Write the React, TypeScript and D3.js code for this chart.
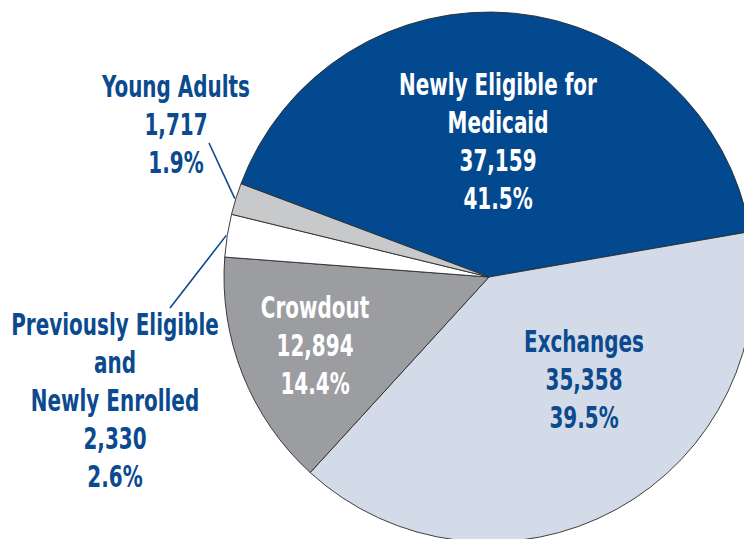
import * as d3 from "d3";

const categories = ["Newly Eligible for Medicaid", "Exchanges", "Crowdout", "Previously Eligible and Newly Enrolled", "Young Adults"];
const values = [37159, 35358, 12894, 2330, 1717];
const percents = ["41.5%", "39.5%", "14.4%", "2.6%", "1.9%"];
const valueLabels = ["37,159", "35,358", "12,894", "2,330", "1,717"];
const labelLines = [
  ["Newly Eligible for", "Medicaid"],
  ["Exchanges"],
  ["Crowdout"],
  ["Previously Eligible", "and", "Newly Enrolled"],
  ["Young Adults"],
];
const fills = ["#03498f", "#d4dbe8", "#9c9da1", "#ffffff", "#c8c9cb"];
const textColors = ["#ffffff", "#0b4a8e", "#ffffff", "#0b4a8e", "#0b4a8e"];

// label anchor (center x, first baseline y) and leader line outer end
const labelPos: [number, number][] = [
  [498, 95],
  [584, 352],
  [315, 318],
  [115, 335],
  [176, 97],
];
const leaderEnd: ([number, number] | null)[] = [null, null, null, [170, 308], [209, 143]];

const W = 744, H = 539;
const cx = 489, cy = 277, R = 265;
const LH = 38;
const FONT = "'Liberation Sans Narrow', 'DejaVu Sans Condensed', 'Arial Narrow', sans-serif";
const SQUEEZE = 0.74; // narrow the condensed font to match the reference's compressed face

export default function App() {
  const pie = d3.pie<number>().sort(null).value(d => d)
    .startAngle(-69.4 * Math.PI / 180).endAngle((360 - 69.4) * Math.PI / 180);
  const arcs = pie(values);
  const arc = d3.arc<d3.PieArcDatum<number>>().innerRadius(0).outerRadius(R);

  return (
    <svg width={W} height={H} style={{ position: "absolute", left: 0, top: 0, background: "#fff" }}>
      <g transform={`translate(${cx},${cy})`}>
        {arcs.map((a, i) => (
          <path key={i} d={arc(a) || ""} fill={fills[i]} stroke="#2b2b2b" strokeWidth={0.9} />
        ))}
      </g>
      {arcs.map((a, i) => {
        const end = leaderEnd[i];
        if (!end) return null;
        const mid = (a.startAngle + a.endAngle) / 2;
        const x1 = cx + Math.sin(mid) * (R + 1);
        const y1 = cy - Math.cos(mid) * (R + 1);
        return <line key={"l" + i} x1={x1} y1={y1} x2={end[0]} y2={end[1]} stroke="#0b4a8e" strokeWidth={1.6} />;
      })}
      {categories.map((c, i) => {
        const lines = [...labelLines[i], valueLabels[i], percents[i]];
        const [lx, ly] = labelPos[i];
        return (
          <text key={c} transform={`translate(${lx},${ly}) scale(${SQUEEZE},1)`} textAnchor="middle"
            fill={textColors[i]} fontFamily={FONT} fontWeight="bold" fontSize={30}>
            {lines.map((t, j) => (
              <tspan key={j} x={0} y={j * LH}>{t}</tspan>
            ))}
          </text>
        );
      })}
    </svg>
  );
}
